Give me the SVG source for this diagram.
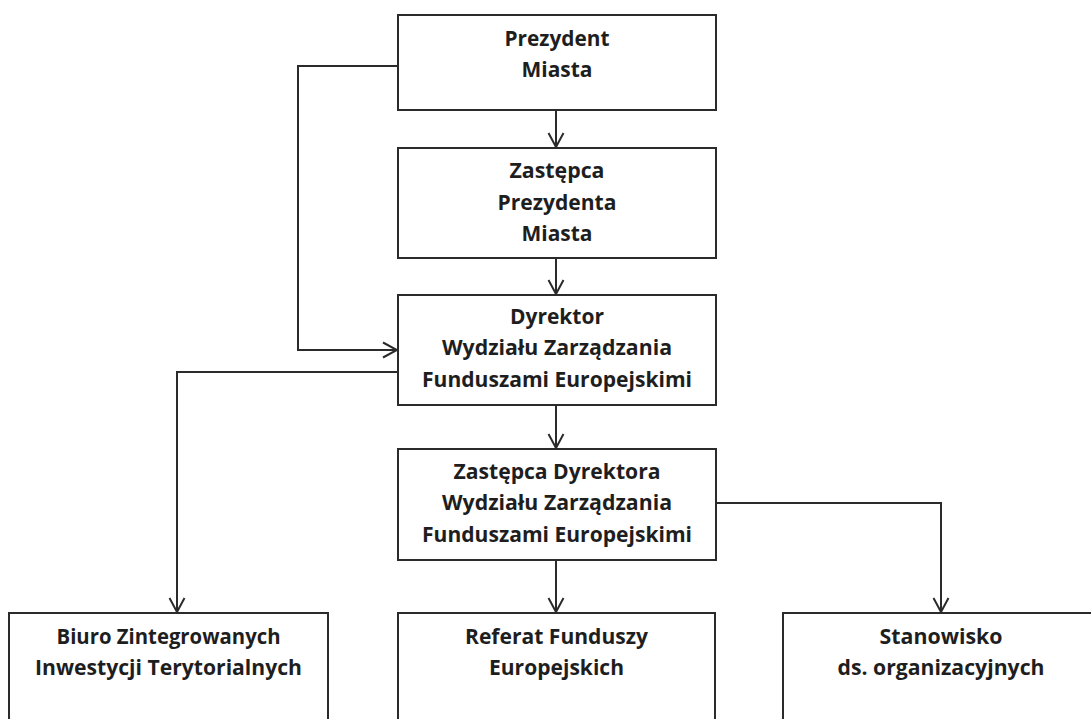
<svg xmlns="http://www.w3.org/2000/svg" width="1091" height="719" viewBox="0 0 1091 719">
  <style>
    .box { fill: #ffffff; stroke: #2b2b2b; stroke-width: 2; }
    .lbl { font-family: "Open Sans", "Liberation Sans", sans-serif; font-weight: bold; font-size: 21px; fill: #1e1e1e; text-anchor: middle; }
    .wire { fill: none; stroke: #2b2b2b; stroke-width: 2; }
  </style>
  <defs>
    <marker id="arrow" viewBox="-16 -9 18 18" refX="0" refY="0" markerWidth="18" markerHeight="18" markerUnits="userSpaceOnUse" orient="auto">
      <path d="M-14,-7.5 L0,0 L-14,7.5" fill="none" stroke="#2b2b2b" stroke-width="2"/>
    </marker>
  </defs>
  <rect width="1091" height="719" fill="#ffffff"/>

  <g id="connectors">
    <polyline class="wire" points="398,66 298,66 298,350 397,350" marker-end="url(#arrow)"/>
    <line class="wire" x1="556" y1="110" x2="556" y2="147" marker-end="url(#arrow)"/>
    <line class="wire" x1="556" y1="258" x2="556" y2="294" marker-end="url(#arrow)"/>
    <line class="wire" x1="556" y1="405" x2="556" y2="448" marker-end="url(#arrow)"/>
    <polyline class="wire" points="398,372 177,372 177,612" marker-end="url(#arrow)"/>
    <line class="wire" x1="556" y1="560" x2="556" y2="612" marker-end="url(#arrow)"/>
    <polyline class="wire" points="716,503 941,503 941,612" marker-end="url(#arrow)"/>
  </g>

  <g id="prezydent">
    <rect class="box" x="398" y="15" width="318" height="95"/>
    <text class="lbl" x="557" y="46" textLength="105" lengthAdjust="spacingAndGlyphs">Prezydent</text>
    <text class="lbl" x="557" y="77" textLength="71" lengthAdjust="spacingAndGlyphs">Miasta</text>
  </g>

  <g id="zastepca-prezydenta">
    <rect class="box" x="398" y="148" width="318" height="110"/>
    <text class="lbl" x="557" y="178" textLength="95" lengthAdjust="spacingAndGlyphs">Zastępca</text>
    <text class="lbl" x="557" y="210" textLength="119" lengthAdjust="spacingAndGlyphs">Prezydenta</text>
    <text class="lbl" x="557" y="241" textLength="71" lengthAdjust="spacingAndGlyphs">Miasta</text>
  </g>

  <g id="dyrektor">
    <rect class="box" x="398" y="295" width="318" height="110"/>
    <text class="lbl" x="557" y="324" textLength="94" lengthAdjust="spacingAndGlyphs">Dyrektor</text>
    <text class="lbl" x="557" y="355" textLength="230" lengthAdjust="spacingAndGlyphs">Wydziału Zarządzania</text>
    <text class="lbl" x="557" y="387" textLength="270" lengthAdjust="spacingAndGlyphs">Funduszami Europejskimi</text>
  </g>

  <g id="zastepca-dyrektora">
    <rect class="box" x="398" y="449" width="318" height="111"/>
    <text class="lbl" x="557" y="479" textLength="207" lengthAdjust="spacingAndGlyphs">Zastępca Dyrektora</text>
    <text class="lbl" x="557" y="510" textLength="230" lengthAdjust="spacingAndGlyphs">Wydziału Zarządzania</text>
    <text class="lbl" x="557" y="542" textLength="270" lengthAdjust="spacingAndGlyphs">Funduszami Europejskimi</text>
  </g>

  <g id="biuro-zit">
    <rect class="box" x="9" y="613" width="319" height="120"/>
    <text class="lbl" x="168.5" y="644" textLength="224" lengthAdjust="spacingAndGlyphs">Biuro Zintegrowanych</text>
    <text class="lbl" x="168.5" y="675" textLength="267" lengthAdjust="spacingAndGlyphs">Inwestycji Terytorialnych</text>
  </g>

  <g id="referat">
    <rect class="box" x="398" y="613" width="317" height="120"/>
    <text class="lbl" x="556.5" y="644" textLength="183" lengthAdjust="spacingAndGlyphs">Referat Funduszy</text>
    <text class="lbl" x="556.5" y="675" textLength="135" lengthAdjust="spacingAndGlyphs">Europejskich</text>
  </g>

  <g id="stanowisko">
    <rect class="box" x="783" y="613" width="330" height="120"/>
    <text class="lbl" x="941" y="644" textLength="123" lengthAdjust="spacingAndGlyphs">Stanowisko</text>
    <text class="lbl" x="941" y="675" textLength="207" lengthAdjust="spacingAndGlyphs">ds. organizacyjnych</text>
  </g>
</svg>
